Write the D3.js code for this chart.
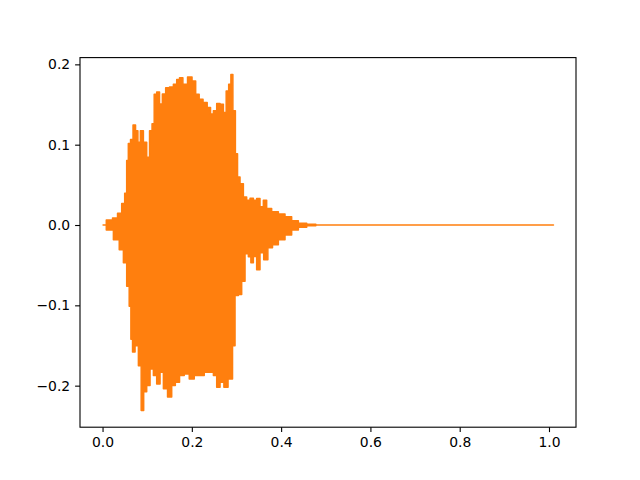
<!DOCTYPE html>
<html>
<head>
<meta charset="utf-8">
<script src="https://cdn.jsdelivr.net/npm/d3@7"></script>
<style>
  body { margin: 0; background: #fff; }
  svg { display: block; }
  .axis text { font-family: "DejaVu Sans", sans-serif; font-size: 13.9px; fill: #000; }
  .axis path, .axis line { stroke: #000; stroke-width: 1.1px; }
</style>
</head>
<body>
<svg id="chart" width="640" height="480"></svg>
<script>
// upper edge of the waveform (seconds, amplitude)
var upperT = [0, 0.0168, 0.0280, 0.0392, 0.0466, 0.0526, 0.0555, 0.0600, 0.0654, 0.0712,
  0.0766, 0.0817, 0.0878, 0.0952, 0.1026, 0.1080, 0.1138, 0.1176, 0.1250, 0.1303,
  0.1377, 0.1451, 0.1550, 0.1624, 0.1698, 0.1751, 0.1848, 0.1960, 0.2049, 0.2123,
  0.2206, 0.2296, 0.2392, 0.2446, 0.2520, 0.2594, 0.2670, 0.2744, 0.2795, 0.2856,
  0.2894, 0.2945, 0.3006, 0.3041, 0.3118, 0.3191, 0.3265, 0.3342, 0.3415, 0.3489,
  0.3565, 0.3639, 0.3713, 0.3863, 0.4013, 0.4161, 0.4311, 0.4461, 0.4685, 0.487, 1.01];
var upperV = [0, 0.0062, 0.0087, 0.0145, 0.0268, 0.0396, 0.0803, 0.1014, 0.1063, 0.1245,
  0.1174, 0.1030, 0.1174, 0.1030, 0.0844, 0.1174, 0.1261, 0.1628, 0.1656, 0.1508,
  0.1632, 0.1710, 0.1718, 0.1752, 0.1813, 0.1833, 0.1752, 0.1842, 0.1792, 0.1628,
  0.1566, 0.1524, 0.1462, 0.1381, 0.1422, 0.1512, 0.1504, 0.1401, 0.1669, 0.1752,
  0.1875, 0.1422, 0.0886, 0.0597, 0.0515, 0.0350, 0.0309, 0.0334, 0.0309, 0.0330,
  0.0226, 0.0309, 0.0206, 0.0164, 0.0136, 0.0103, 0.0053, 0.0021, 0.0009, 0, 0];

// lower edge of the waveform
var lowerT = [0, 0.0168, 0.0318, 0.0430, 0.0504, 0.0578, 0.0616, 0.0654, 0.0690, 0.0766,
  0.0840, 0.0891, 0.0952, 0.1026, 0.1102, 0.1176, 0.1250, 0.1326, 0.1400, 0.1512,
  0.1586, 0.1675, 0.1774, 0.1886, 0.1998, 0.2110, 0.2222, 0.2334, 0.2446, 0.2520,
  0.2594, 0.2670, 0.2766, 0.2856, 0.2894, 0.2929, 0.3006, 0.3080, 0.3153, 0.3230,
  0.3303, 0.3342, 0.3415, 0.3489, 0.3565, 0.3655, 0.3751, 0.3863, 0.4013, 0.4161,
  0.4311, 0.4461, 0.4685, 0.487, 1.01];
var lowerV = [0, -0.0062, -0.0185, -0.0309, -0.0470, -0.0763, -0.1010, -0.1422, -0.1582, -0.1504,
  -0.1752, -0.2308, -0.2077, -0.1999, -0.1792, -0.1875, -0.1978, -0.1833, -0.2040, -0.2142,
  -0.1999, -0.1957, -0.1875, -0.1854, -0.1916, -0.1875, -0.1875, -0.1833, -0.1833, -0.1875,
  -0.2019, -0.1957, -0.2019, -0.1916, -0.1916, -0.1504, -0.0878, -0.0865, -0.0701, -0.0358,
  -0.0396, -0.0470, -0.0392, -0.0556, -0.0346, -0.0433, -0.0284, -0.0247, -0.0185, -0.0124,
  -0.0062, -0.0028, -0.0009, 0, 0];

var xTicks = [0, 0.2, 0.4, 0.6, 0.8, 1.0];
var yTicks = [-0.2, -0.1, 0, 0.1, 0.2];

var svg = d3.select("#chart"),
  margin = { top: 57.6, right: 64, bottom: 52.8, left: 80 },
  width = svg.attr("width") - margin.left - margin.right,
  height = svg.attr("height") - margin.top - margin.bottom,
  g = svg.append("g").attr("transform", "translate(" + margin.left + "," + margin.top + ")");

// matplotlib style 5% padding around the data
function padded(ext) {
  var span = ext[1] - ext[0];
  return [ext[0] - 0.05 * span, ext[1] + 0.05 * span];
}

var allT = upperT.concat(lowerT),
  allV = upperV.concat(lowerV);

var x = d3.scaleLinear().domain(padded(d3.extent(allT))).range([0, width]),
  y = d3.scaleLinear().domain(padded(d3.extent(allV))).range([height, 0]);

// outline: along the upper edge, back along the lower edge
var pts = upperT.map(function(t, i) { return [t, upperV[i]]; })
  .concat(lowerT.map(function(t, i) { return [t, lowerV[i]]; }).reverse());

var line = d3.line()
  .x(function(d) { return x(d[0]); })
  .y(function(d) { return y(d[1]); })
  .curve(d3.curveStep);

g.append("path")
  .datum(pts)
  .attr("d", line)
  .attr("fill", "#ff7f0e")
  .attr("stroke", "#ff7f0e")
  .attr("stroke-width", 1.5)
  .attr("stroke-linejoin", "round");

var fmt = d3.format(".1f");

g.append("g")
  .attr("class", "axis axis--x")
  .attr("transform", "translate(0," + height + ")")
  .call(d3.axisBottom(x).tickValues(xTicks).tickFormat(fmt).tickSize(4.9).tickPadding(4.9).tickSizeOuter(0));

g.append("g")
  .attr("class", "axis axis--y")
  .call(d3.axisLeft(y).tickValues(yTicks).tickFormat(fmt).tickSize(4.9).tickPadding(4.9).tickSizeOuter(0));

g.selectAll(".axis .domain").remove();

// frame
g.append("rect")
  .attr("width", width)
  .attr("height", height)
  .attr("fill", "none")
  .attr("stroke", "#000")
  .attr("stroke-width", 1.1);
</script>
</body>
</html>
